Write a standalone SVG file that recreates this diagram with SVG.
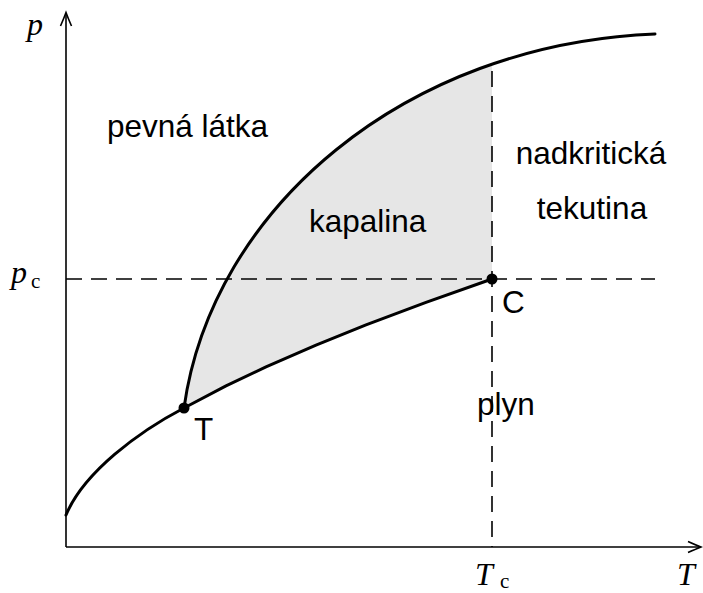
<svg xmlns="http://www.w3.org/2000/svg" width="703" height="593" viewBox="0 0 703 593">
<style>
.curve{fill:none;stroke:#000;stroke-width:3;stroke-linejoin:round;stroke-linecap:round}
.axis{fill:none;stroke:#000;stroke-width:1.6}
.dash{fill:none;stroke:#000;stroke-width:1.6;stroke-dasharray:16 9}
.lbl{font-family:"Liberation Sans","DejaVu Sans",sans-serif;font-size:31.5px;fill:#000}
.math{font-family:"Liberation Serif","DejaVu Serif",serif;font-style:italic;font-size:32px;fill:#000}
.sub{font-family:"Liberation Serif","DejaVu Serif",serif;font-size:21px;fill:#000}
</style>
<defs>
<clipPath id="clipL"><rect x="0" y="0" width="492" height="593"/></clipPath>
</defs>
<rect width="703" height="593" fill="#fff"/>
<g id="liquid-region">
<path clip-path="url(#clipL)" fill="#e6e6e6" d="M184,408 C212,208 405,44 655,34 L655,279 L492,279 L426,302.3 L366,324.9 L316,345.1 L266,366.9 L226,385.9 Z"/>
</g>
<g id="connectors">
<path class="dash" d="M66,279 H655"/>
<path class="dash" d="M492,71 V547"/>
<path class="curve" d="M66,515 C84,472 139,431.5 184,408 L226,385.9 L266,366.9 L316,345.1 L366,324.9 L426,302.3 L492,279"/>
<path class="curve" d="M184,408 C212,208 405,44 655,34"/>
</g>
<g id="axes">
<path class="axis" d="M66,547 V13"/>
<path class="axis" d="M60.5,26 Q64,18 66,12.5 Q68,18 71.5,26"/>
<path class="axis" d="M66,547 H700"/>
<path class="axis" d="M688,541.5 Q696,545 701,547 Q696,549 688,552.5"/>
<text class="math" x="27" y="35">p</text>
<text class="math" x="677" y="585">T</text>
<g id="pc-label"><text class="math" x="11" y="283">p</text><text class="sub" x="31" y="288">c</text></g>
<g id="Tc-label"><text class="math" x="475" y="585">T</text><text class="sub" x="500" y="588">c</text></g>
</g>
<g id="point-T">
<circle cx="184" cy="408" r="5.5" fill="#000"/>
<text class="lbl" x="194" y="440">T</text>
</g>
<g id="point-C">
<circle cx="492" cy="279" r="5.5" fill="#000"/>
<text class="lbl" x="502" y="313">C</text>
</g>
<g id="region-solid"><text class="lbl" x="107" y="137">pevná látka</text></g>
<g id="region-liquid"><text class="lbl" x="309" y="232">kapalina</text></g>
<g id="region-supercritical">
<text class="lbl" x="591" y="164" text-anchor="middle">nadkritická</text>
<text class="lbl" x="592" y="219" text-anchor="middle">tekutina</text>
</g>
<g id="region-gas"><text class="lbl" x="477" y="415">plyn</text></g>
</svg>
